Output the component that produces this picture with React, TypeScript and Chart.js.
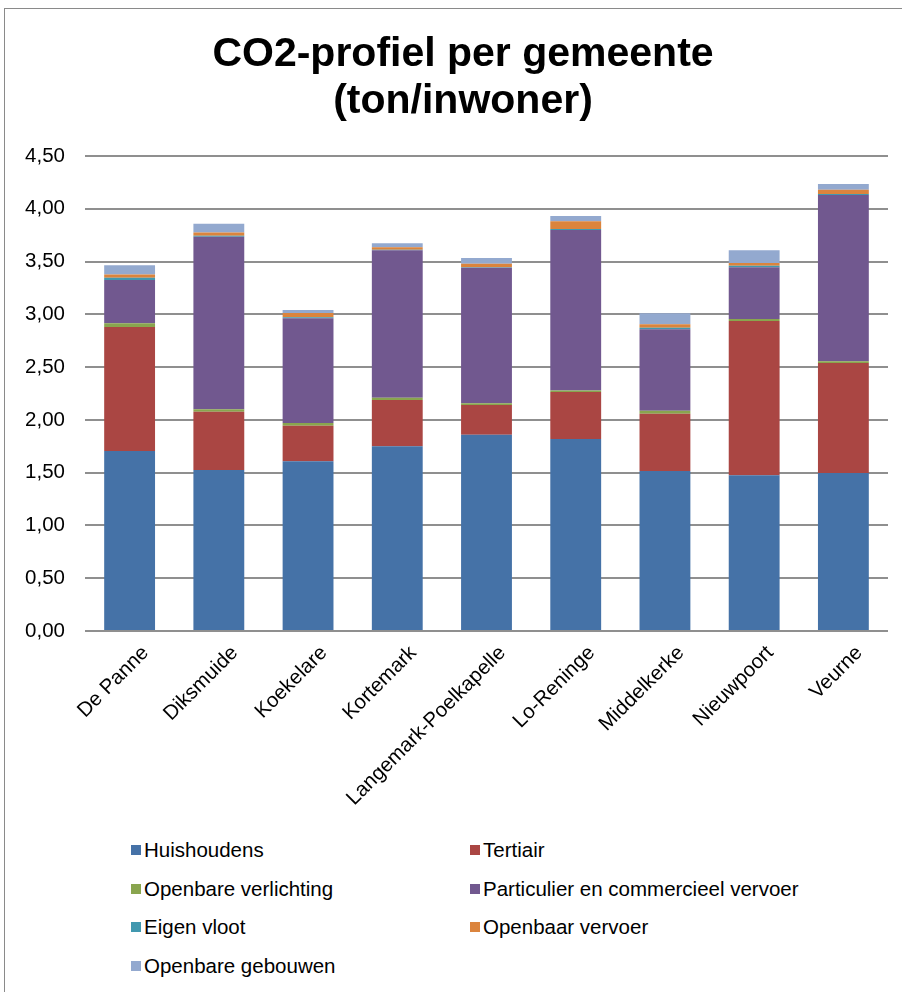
import React, { useEffect, useRef } from "react";
import { Chart, registerables } from "chart.js";

Chart.register(...registerables);

const categories = [
  "De Panne",
  "Diksmuide",
  "Koekelare",
  "Kortemark",
  "Langemark-Poelkapelle",
  "Lo-Reninge",
  "Middelkerke",
  "Nieuwpoort",
  "Veurne",
];

const huishoudens = [1.705, 1.525, 1.607, 1.75, 1.86, 1.819, 1.516, 1.475, 1.497];
const tertiair = [1.175, 0.553, 0.338, 0.438, 0.281, 0.445, 0.543, 1.462, 1.042];
const openbareVerlichting = [0.035, 0.022, 0.025, 0.022, 0.016, 0.015, 0.028, 0.018, 0.016];
const particulierVervoer = [0.41, 1.635, 0.992, 1.396, 1.285, 1.52, 0.771, 0.49, 1.575];
const eigenVloot = [0.022, 0.01, 0.01, 0.005, 0.005, 0.01, 0.015, 0.016, 0.01];
const openbaarVervoer = [0.03, 0.03, 0.04, 0.025, 0.033, 0.072, 0.032, 0.025, 0.041];
const openbareGebouwen = [0.088, 0.083, 0.028, 0.038, 0.054, 0.05, 0.105, 0.12, 0.054];

const yTicks = [0, 0.5, 1, 1.5, 2, 2.5, 3, 3.5, 4, 4.5];

const titleLines = ["CO2-profiel per gemeente", "(ton/inwoner)"];

const series = [
  { label: "Huishoudens", data: huishoudens, color: "#4572A7" },
  { label: "Tertiair", data: tertiair, color: "#AA4643" },
  { label: "Openbare verlichting", data: openbareVerlichting, color: "#89A54E" },
  { label: "Particulier en commercieel vervoer", data: particulierVervoer, color: "#71588F" },
  { label: "Eigen vloot", data: eigenVloot, color: "#4198AF" },
  { label: "Openbaar vervoer", data: openbaarVervoer, color: "#DB843D" },
  { label: "Openbare gebouwen", data: openbareGebouwen, color: "#93A9CF" },
];

const FONT = "'Liberation Sans', Arial, sans-serif";

const titlePlugin = {
  id: "offsetTitle",
  afterDraw(chart: any) {
    const ctx = chart.ctx;
    ctx.save();
    ctx.fillStyle = "#000";
    ctx.font = `bold 41px ${FONT}`;
    ctx.textAlign = "center";
    ctx.textBaseline = "middle";
    titleLines.forEach((line, i) => {
      ctx.fillText(line, 463, 55 + i * 47);
    });
    ctx.restore();
  },
};

export default function App() {
  const canvasRef = useRef<HTMLCanvasElement | null>(null);

  useEffect(() => {
    if (!canvasRef.current) return;
    const chart = new Chart(canvasRef.current, {
      type: "bar",
      data: {
        labels: categories,
        datasets: series.map((s) => ({
          label: s.label,
          data: s.data,
          backgroundColor: s.color,
          borderWidth: 0,
          categoryPercentage: 1,
          barPercentage: 0.57,
        })),
      },
      plugins: [titlePlugin],
      options: {
        animation: false,
        responsive: false,
        maintainAspectRatio: false,
        layout: { padding: { left: 0, right: 14, top: 156, bottom: 0 } },
        plugins: {
          legend: { display: false },
          tooltip: { enabled: false },
          title: { display: false },
        },
        scales: {
          x: {
            stacked: true,
            grid: { display: false },
            border: { display: false },
            ticks: {
              color: "#000",
              font: { family: FONT, size: 20.5 },
              maxRotation: 45,
              minRotation: 45,
              autoSkip: false,
              padding: 2,
              labelOffset: 16,
            },
            afterFit: (scale: any) => {
              scale.height = 180;
            },
          },
          y: {
            stacked: true,
            min: 0,
            max: 4.5,
            afterBuildTicks: (scale: any) => {
              scale.ticks = yTicks.map((v) => ({ value: v }));
            },
            grid: { color: "#8f8f8f", lineWidth: 2, drawTicks: false },
            border: { display: false },
            ticks: {
              color: "#000",
              font: { family: FONT, size: 20.5 },
              padding: 20,
              callback: (v: any) => Number(v).toFixed(2).replace(".", ","),
            },
            afterFit: (scale: any) => {
              scale.width = 85;
            },
          },
        },
      },
    });
    return () => chart.destroy();
  }, []);

  const legendRows = [
    [series[0], series[1]],
    [series[2], series[3]],
    [series[4], series[5]],
    [series[6]],
  ];

  return (
    <div style={{ position: "fixed", left: 0, top: 0, width: 902, height: 992, overflow: "hidden", background: "#fff" }}>
      <div
        style={{
          position: "absolute",
          left: 4,
          top: 8,
          width: 1000,
          height: 1000,
          borderLeft: "1.5px solid #8a8a8a",
          borderTop: "1.5px solid #8a8a8a",
        }}
      />
      <canvas ref={canvasRef} width={902} height={811} style={{ position: "absolute", left: 0, top: 0, width: 902, height: 811 }} />
      {legendRows.map((row, ri) =>
        row.map((s, ci) => (
          <div
            key={s.label}
            style={{
              position: "absolute",
              left: ci === 0 ? 131 : 470,
              top: 850 + ri * 38.5 - 12,
              height: 24,
              display: "flex",
              alignItems: "center",
              fontFamily: FONT,
              fontSize: 20.5,
              color: "#000",
              whiteSpace: "nowrap",
            }}
          >
            <span style={{ display: "inline-block", width: 10, height: 10, background: s.color, marginRight: 3 }} />
            <span>{s.label}</span>
          </div>
        ))
      )}
    </div>
  );
}
